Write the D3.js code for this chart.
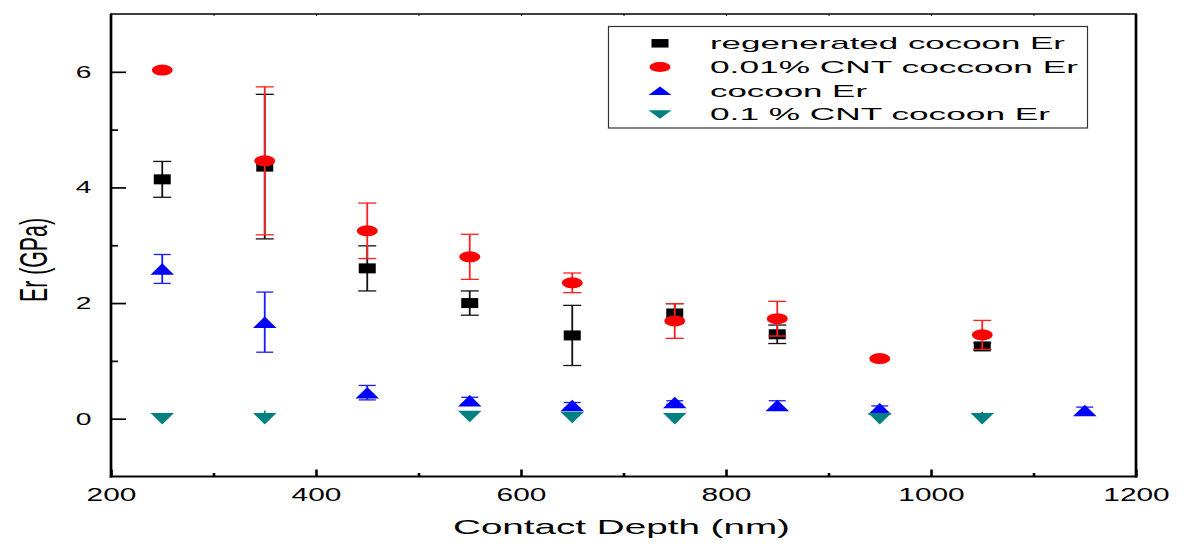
<!DOCTYPE html>
<html>
<head>
<meta charset="utf-8">
<script src="https://cdn.jsdelivr.net/npm/d3@7"></script>
<style>
  body { margin: 0; background: #fff; }
  text { font-family: "Liberation Sans", Arial, sans-serif; fill: #000; }
</style>
</head>
<body>
<div id="chart"></div>
<script>
// contact depth (nm)
var depth = [250, 350, 450, 550, 650, 750, 850, 950, 1050, 1150];

// Er (GPa) per sample, null = no point
var regenEr    = [4.14, 4.36, 2.60, 2.00, 1.44, 1.82, 1.46, null, 1.25, null];
var regenErr   = [0.31, 1.25, 0.39, 0.21, 0.52, 0.17, 0.16, null, 0.06, null];
var cnt001Er   = [6.03, 4.46, 3.25, 2.80, 2.35, 1.69, 1.73, 1.04, 1.45, null];
var cnt001Err  = [null, 1.28, 0.48, 0.39, 0.17, 0.30, 0.30, null, 0.25, null];
var cocoonEr   = [2.59, 1.67, 0.45, 0.31, 0.23, 0.28, 0.23, 0.17, null, 0.14];
var cocoonErr  = [0.25, 0.52, 0.125, 0.06, 0.05, 0.03, 0.08, 0.05, null, 0.06];
var cnt01Er    = [0.00, 0.00, null, 0.04, 0.02, 0.00, null, 0.00, 0.00, null];
var cnt01Err   = [0.02, 0.14, null, 0.03, 0.03, 0.02, null, 0.04, 0.12, null];

var seriesNames = ['regenerated cocoon Er', '0.01% CNT coccoon Er', 'cocoon Er', '0.1 % CNT cocoon Er'];
var xTicks = [200, 400, 600, 800, 1000, 1200];
var xMinor = [300, 500, 700, 900, 1100];
var yTicks = [0, 2, 4, 6];
var yMinor = [1, 3, 5];

var series = [
  {name: seriesNames[0], vals: regenEr, errs: regenErr, color: '#000000', bar: '#111', shape: 'square', cap: 9},
  {name: seriesNames[1], vals: cnt001Er, errs: cnt001Err, color: '#ff0000', bar: '#ff2020', shape: 'circle', cap: 9},
  {name: seriesNames[2], vals: cocoonEr, errs: cocoonErr, color: '#0000ff', bar: '#1a1aff', shape: 'up', cap: 8.5},
  {name: seriesNames[3], vals: cnt01Er, errs: cnt01Err, color: '#008080', bar: '#008080', shape: 'down', cap: 0}
];

var W = 1185, H = 550;
var pLeft = 111, pRight = 1136, pTop = 14, pBottom = 476.5;

var x = d3.scaleLinear().domain([200, 1200]).range([pLeft, pRight]);
var y = d3.scaleLinear().domain([-1, 7]).range([pBottom, pTop]);

// the original figure is stretched sideways, so markers are wide and flat
function marker(shape, w, h) {
  if (shape == 'square') return 'M' + (-w/2) + ',' + (-h/2) + 'h' + w + 'v' + h + 'h' + (-w) + 'Z';
  if (shape == 'circle') return 'M' + (-w/2) + ',0A' + w/2 + ',' + h/2 + ' 0 1 0 ' + w/2 + ',0A' + w/2 + ',' + h/2 + ' 0 1 0 ' + (-w/2) + ',0Z';
  if (shape == 'up') return 'M0,' + (-h/2) + 'L' + w/2 + ',' + h/2 + 'L' + (-w/2) + ',' + h/2 + 'Z';
  return 'M0,' + h/2 + 'L' + w/2 + ',' + (-h/2) + 'L' + (-w/2) + ',' + (-h/2) + 'Z';
}
var markSize = {square: [17, 10], circle: [21, 11], up: [23.5, 11.5], down: [23.5, 11.5]};
var legSize = {square: [17, 8.5], circle: [21, 10], up: [23, 8.5], down: [23, 8.5]};

function stretch(sel, w) {
  sel.attr('textLength', w).attr('lengthAdjust', 'spacingAndGlyphs');
}

var svg = d3.select('#chart').append('svg')
  .attr('width', W)
  .attr('height', H);

// axes
var xAxis = svg.append('g')
  .attr('transform', 'translate(0,' + pBottom + ')')
  .call(d3.axisBottom(x).tickValues(xTicks).tickSize(-7).tickPadding(11.5).tickFormat(d3.format('d')));
xAxis.selectAll('text').style('font-size', '18px')
  .each(function(d) { stretch(d3.select(this), String(d).length * 16.6); });
xAxis.selectAll('line').attr('stroke-width', 2.6);

var xMinorAxis = svg.append('g')
  .attr('transform', 'translate(0,' + pBottom + ')')
  .call(d3.axisBottom(x).tickValues(xMinor).tickSize(-3.5).tickFormat(''));
xMinorAxis.selectAll('line').attr('stroke-width', 2.6);

var yAxis = svg.append('g')
  .attr('transform', 'translate(' + pLeft + ',0)')
  .call(d3.axisLeft(y).tickValues(yTicks).tickSize(-15).tickPadding(19.5));
yAxis.selectAll('text').style('font-size', '17px')
  .each(function() { stretch(d3.select(this), 15.7); });
yAxis.selectAll('line').attr('stroke-width', 1.7);

var yMinorAxis = svg.append('g')
  .attr('transform', 'translate(' + pLeft + ',0)')
  .call(d3.axisLeft(y).tickValues(yMinor).tickSize(-7).tickFormat(''));
yMinorAxis.selectAll('line').attr('stroke-width', 1.7);

// tiny ticks along the top
var topAxis = svg.append('g')
  .attr('transform', 'translate(0,' + pTop + ')')
  .call(d3.axisTop(x).tickValues(xTicks.concat(xMinor)).tickSize(-2).tickFormat(''));
topAxis.selectAll('line').attr('stroke-width', 1);

svg.selectAll('.domain').remove();
svg.selectAll('.tick line').attr('stroke', '#000');

// frame
svg.append('line').attr('x1', pLeft - 1).attr('x2', pRight + 1).attr('y1', pTop).attr('y2', pTop)
  .attr('stroke', '#000').attr('stroke-width', 1.5);
svg.append('line').attr('x1', pLeft - 1.3).attr('x2', pRight + 1.3).attr('y1', pBottom).attr('y2', pBottom)
  .attr('stroke', '#000').attr('stroke-width', 2);
svg.append('line').attr('x1', pLeft).attr('x2', pLeft).attr('y1', pTop).attr('y2', pBottom + 1)
  .attr('stroke', '#000').attr('stroke-width', 2.7);
svg.append('line').attr('x1', pRight).attr('x2', pRight).attr('y1', pTop).attr('y2', pBottom + 1)
  .attr('stroke', '#000').attr('stroke-width', 2.7);

// axis titles
svg.append('text')
  .attr('x', 621.5).attr('y', 534)
  .attr('text-anchor', 'middle')
  .style('font-size', '21px')
  .text('Contact Depth (nm)')
  .call(stretch, 337);

svg.append('text')
  .attr('transform', 'translate(46.5,260) rotate(-90)')
  .attr('text-anchor', 'middle')
  .style('font-size', '39px')
  .text('Er (GPa)')
  .call(stretch, 84);

// data: error bars then markers, one series after the other
var plot = svg.append('g');
series.forEach(function(s) {
  var pts = depth.map(function(d, i) { return {x: d, v: s.vals[i], e: s.errs[i]}; })
    .filter(function(p) { return p.v != null; });
  var eb = plot.append('g').attr('stroke', s.bar);
  pts.filter(function(p) { return p.e; }).forEach(function(p) {
    var cx = x(p.x), cw = s.cap;
    // teal bars only show the upper half, no caps
    var lo = cw ? p.v - p.e : p.v;
    eb.append('line').attr('x1', cx).attr('x2', cx)
      .attr('y1', y(p.v + p.e)).attr('y2', y(lo)).attr('stroke-width', 1.8);
    if (!cw) return;
    eb.append('line').attr('x1', cx - cw).attr('x2', cx + cw)
      .attr('y1', y(p.v + p.e)).attr('y2', y(p.v + p.e)).attr('stroke-width', 1.3);
    eb.append('line').attr('x1', cx - cw).attr('x2', cx + cw)
      .attr('y1', y(p.v - p.e)).attr('y2', y(p.v - p.e)).attr('stroke-width', 1.3);
  });
  plot.append('g').selectAll('path').data(pts).enter().append('path')
    .attr('d', marker(s.shape, markSize[s.shape][0], markSize[s.shape][1]))
    .attr('transform', function(p) { return 'translate(' + x(p.x) + ',' + y(p.v) + ')'; })
    .attr('fill', s.color);
});

// legend
var leg = svg.append('g');
leg.append('rect')
  .attr('x', 608.5).attr('y', 26.5).attr('width', 479).attr('height', 101.5)
  .attr('fill', 'none').attr('stroke', '#333').attr('stroke-width', 1.2);
var legW = [355, 368, 157, 340];
series.forEach(function(s, i) {
  var cy = 43.3 + i * 23.7;
  leg.append('path')
    .attr('d', marker(s.shape, legSize[s.shape][0], legSize[s.shape][1]))
    .attr('transform', 'translate(660,' + cy + ')')
    .attr('fill', s.color);
  leg.append('text')
    .attr('x', 710).attr('y', cy + 6)
    .style('font-size', '17px')
    .text(s.name)
    .call(stretch, legW[i]);
});
</script>
</body>
</html>
